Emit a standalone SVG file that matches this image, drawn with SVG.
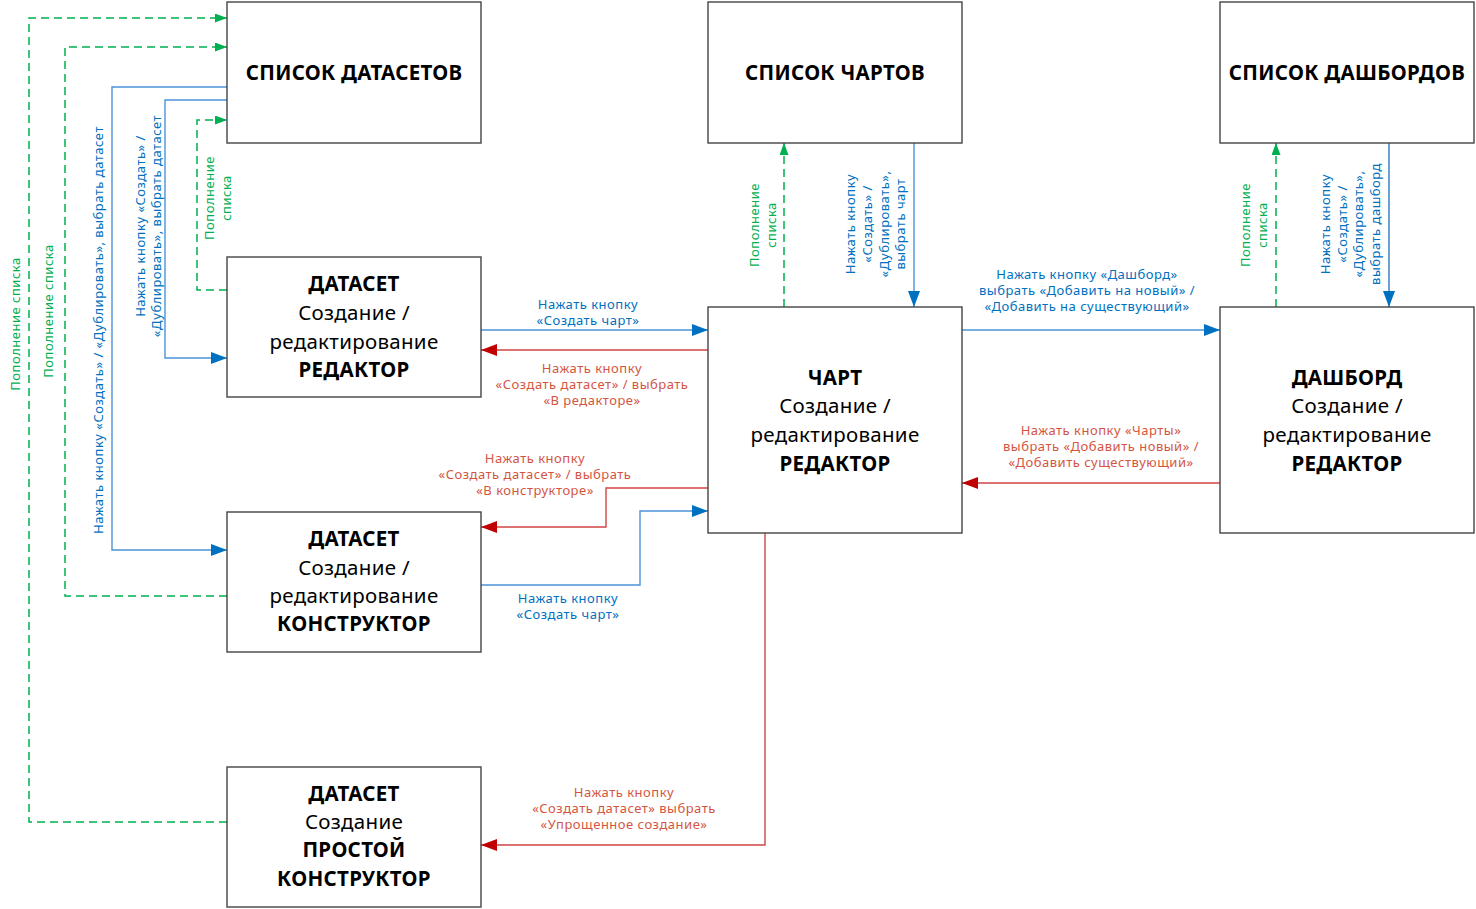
<svg xmlns="http://www.w3.org/2000/svg" width="1476" height="909" viewBox="0 0 1476 909">
<defs>
<style>
.box{fill:#fff;stroke:#444;stroke-width:1.4}
.t{font-family:"Noto Sans","Open Sans",sans-serif;font-size:20.5px;letter-spacing:0.3px;fill:#000;text-anchor:middle}
.b{font-weight:bold}
.lb{font-family:"Noto Sans","Open Sans",sans-serif;font-size:13px;letter-spacing:0.5px;text-anchor:middle}
.blue{fill:#0070C0}
.red{fill:#D4553F}
.green{fill:#00B050}
.cb{fill:none;stroke:#4A94D8;stroke-width:1.4}
.cr{fill:none;stroke:#D04545;stroke-width:1.4}
.cg{fill:none;stroke:#00B050;stroke-width:1.5;stroke-dasharray:8,5}
</style>
<marker id="ab" markerWidth="16" markerHeight="12" refX="16" refY="6" orient="auto" markerUnits="userSpaceOnUse"><path d="M0,0 L16,6 L0,12 Z" fill="#0070C0"/></marker>
<marker id="ar" markerWidth="16" markerHeight="12" refX="16" refY="6" orient="auto" markerUnits="userSpaceOnUse"><path d="M0,0 L16,6 L0,12 Z" fill="#C00000"/></marker>
<marker id="ag" markerWidth="12" markerHeight="9" refX="12" refY="4.5" orient="auto" markerUnits="userSpaceOnUse"><path d="M0,0 L12,4.5 L0,9 Z" fill="#00B050"/></marker>
</defs>
<rect width="1476" height="909" fill="#fff"/>

<g id="connectors">
<path class="cg" d="M227,822 H29 V18 H227" marker-end="url(#ag)"/>
<path class="cg" d="M227,596 H65 V47 H227" marker-end="url(#ag)"/>
<path class="cb" d="M227,87 H112 V550 H227" marker-end="url(#ab)"/>
<path class="cb" d="M227,100 H165 V358 H227" marker-end="url(#ab)"/>
<path class="cg" d="M227,290 H197 V120 H227" marker-end="url(#ag)"/>
<path class="cb" d="M481,330 H708" marker-end="url(#ab)"/>
<path class="cr" d="M708,350 H481" marker-end="url(#ar)"/>
<path class="cr" d="M708,488 H606 V527 H481" marker-end="url(#ar)"/>
<path class="cb" d="M481,585 H640 V511 H708" marker-end="url(#ab)"/>
<path class="cr" d="M765,533 V845 H481" marker-end="url(#ar)"/>
<path class="cg" d="M784,307 V143" marker-end="url(#ag)"/>
<path class="cb" d="M914,143 V307" marker-end="url(#ab)"/>
<path class="cb" d="M962,330 H1220" marker-end="url(#ab)"/>
<path class="cr" d="M1220,483 H962" marker-end="url(#ar)"/>
<path class="cg" d="M1276,307 V143" marker-end="url(#ag)"/>
<path class="cb" d="M1389,143 V307" marker-end="url(#ab)" style="stroke:#2E78C0"/>

<text class="lb green" transform="translate(20,324) rotate(-90)">Пополнение списка</text>
<text class="lb green" transform="translate(53,311) rotate(-90)">Пополнение списка</text>
<text class="lb blue" transform="translate(103,330) rotate(-90)">Нажать кнопку «Создать» / «Дублировать», выбрать датасет</text>
<text class="lb blue" transform="translate(145,226) rotate(-90)"><tspan x="0" y="0">Нажать кнопку «Создать» /</tspan><tspan x="0" y="16">«Дублировать», выбрать датасет</tspan></text>
<text class="lb green" transform="translate(214,198) rotate(-90)"><tspan x="0" y="0">Пополнение</tspan><tspan x="0" y="17">списка</tspan></text>

<text class="lb blue"><tspan x="588" y="309">Нажать кнопку</tspan><tspan x="588" y="325">«Создать чарт»</tspan></text>
<text class="lb red"><tspan x="592" y="373">Нажать кнопку</tspan><tspan x="592" y="389">«Создать датасет» / выбрать</tspan><tspan x="592" y="405">«В редакторе»</tspan></text>
<text class="lb red"><tspan x="535" y="463">Нажать кнопку</tspan><tspan x="535" y="479">«Создать датасет» / выбрать</tspan><tspan x="535" y="495">«В конструкторе»</tspan></text>
<text class="lb blue"><tspan x="568" y="603">Нажать кнопку</tspan><tspan x="568" y="619">«Создать чарт»</tspan></text>
<text class="lb red"><tspan x="624" y="797">Нажать кнопку</tspan><tspan x="624" y="813">«Создать датасет» выбрать</tspan><tspan x="624" y="829">«Упрощенное создание»</tspan></text>

<text class="lb green" transform="translate(759,225) rotate(-90)"><tspan x="0" y="0">Пополнение</tspan><tspan x="0" y="17">списка</tspan></text>
<text class="lb blue" transform="translate(855,224) rotate(-90)"><tspan x="0" y="0">Нажать кнопку</tspan><tspan x="0" y="17">«Создать» /</tspan><tspan x="0" y="34">«Дублировать»,</tspan><tspan x="0" y="50">выбрать чарт</tspan></text>

<text class="lb blue"><tspan x="1087" y="279">Нажать кнопку «Дашборд»</tspan><tspan x="1087" y="295">выбрать «Добавить на новый» /</tspan><tspan x="1087" y="311">«Добавить на существующий»</tspan></text>
<text class="lb red"><tspan x="1101" y="435">Нажать кнопку «Чарты»</tspan><tspan x="1101" y="451">выбрать «Добавить новый» /</tspan><tspan x="1101" y="467">«Добавить существующий»</tspan></text>

<text class="lb green" transform="translate(1250,225) rotate(-90)"><tspan x="0" y="0">Пополнение</tspan><tspan x="0" y="17">списка</tspan></text>
<text class="lb blue" transform="translate(1330,224) rotate(-90)"><tspan x="0" y="0">Нажать кнопку</tspan><tspan x="0" y="17">«Создать» /</tspan><tspan x="0" y="33">«Дублировать»,</tspan><tspan x="0" y="50">выбрать дашборд</tspan></text>
</g>

<g id="n-dataset-list"><rect class="box" x="227" y="2" width="254" height="141"/><text class="t b" x="354" y="80">СПИСОК ДАТАСЕТОВ</text></g>
<g id="n-chart-list"><rect class="box" x="708" y="2" width="254" height="141"/><text class="t b" x="835" y="80">СПИСОК ЧАРТОВ</text></g>
<g id="n-dash-list"><rect class="box" x="1220" y="2" width="254" height="141"/><text class="t b" x="1347" y="80">СПИСОК ДАШБОРДОВ</text></g>

<g id="n-dataset-editor"><rect class="box" x="227" y="257" width="254" height="140"/>
<text class="t b" x="354" y="291">ДАТАСЕТ</text><text class="t" x="354" y="320">Создание /</text><text class="t" x="354" y="349">редактирование</text><text class="t b" x="354" y="377">РЕДАКТОР</text></g>

<g id="n-chart"><rect class="box" x="708" y="307" width="254" height="226"/>
<text class="t b" x="835" y="385">ЧАРТ</text><text class="t" x="835" y="413">Создание /</text><text class="t" x="835" y="442">редактирование</text><text class="t b" x="835" y="471">РЕДАКТОР</text></g>

<g id="n-dashboard"><rect class="box" x="1220" y="307" width="254" height="226"/>
<text class="t b" x="1347" y="385">ДАШБОРД</text><text class="t" x="1347" y="413">Создание /</text><text class="t" x="1347" y="442">редактирование</text><text class="t b" x="1347" y="471">РЕДАКТОР</text></g>

<g id="n-dataset-constructor"><rect class="box" x="227" y="512" width="254" height="140"/>
<text class="t b" x="354" y="546">ДАТАСЕТ</text><text class="t" x="354" y="575">Создание /</text><text class="t" x="354" y="603">редактирование</text><text class="t b" x="354" y="631">КОНСТРУКТОР</text></g>

<g id="n-dataset-simple"><rect class="box" x="227" y="767" width="254" height="140"/>
<text class="t b" x="354" y="801">ДАТАСЕТ</text><text class="t" x="354" y="829">Создание</text><text class="t b" x="354" y="857">ПРОСТОЙ</text><text class="t b" x="354" y="886">КОНСТРУКТОР</text></g>
</svg>
